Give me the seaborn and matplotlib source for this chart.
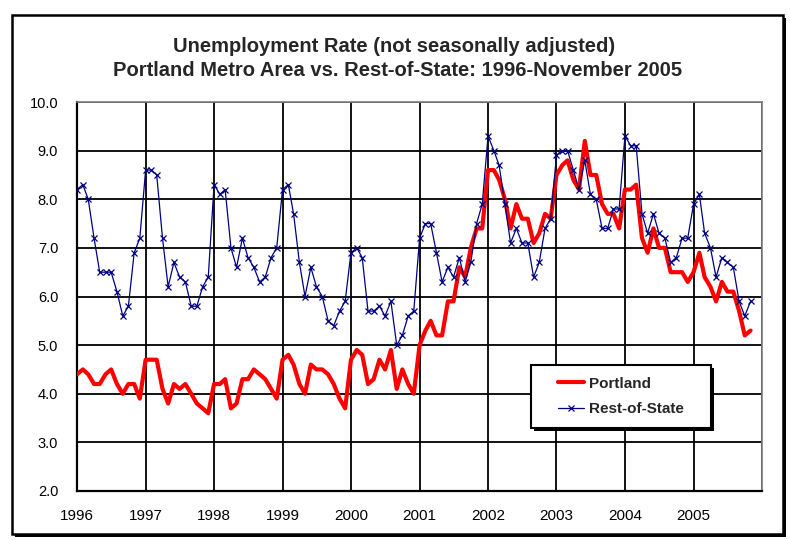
import pandas as pd
import matplotlib
matplotlib.use("Agg")
import matplotlib.pyplot as plt
from matplotlib.patches import Rectangle
import seaborn as sns

# ---------------------------------------------------------------------------
# Data (monthly, Jan 1996 - Nov 2005)
# ---------------------------------------------------------------------------
START = "1996-01-01"

PORTLAND = [
    4.4, 4.5, 4.4, 4.2, 4.2, 4.4, 4.5, 4.2, 4.0, 4.2, 4.2, 3.9,   # 1996
    4.7, 4.7, 4.7, 4.1, 3.8, 4.2, 4.1, 4.2, 4.0, 3.8, 3.7, 3.6,   # 1997
    4.2, 4.2, 4.3, 3.7, 3.8, 4.3, 4.3, 4.5, 4.4, 4.3, 4.1, 3.9,   # 1998
    4.7, 4.8, 4.6, 4.2, 4.0, 4.6, 4.5, 4.5, 4.4, 4.2, 3.9, 3.7,   # 1999
    4.7, 4.9, 4.8, 4.2, 4.3, 4.7, 4.5, 4.9, 4.1, 4.5, 4.2, 4.0,   # 2000
    5.0, 5.3, 5.5, 5.2, 5.2, 5.9, 5.9, 6.6, 6.4, 7.0, 7.4, 7.4,   # 2001
    8.6, 8.6, 8.4, 8.0, 7.4, 7.9, 7.6, 7.6, 7.1, 7.3, 7.7, 7.6,   # 2002
    8.5, 8.7, 8.8, 8.4, 8.2, 9.2, 8.5, 8.5, 7.9, 7.7, 7.7, 7.4,   # 2003
    8.2, 8.2, 8.3, 7.2, 6.9, 7.4, 7.0, 7.0, 6.5, 6.5, 6.5, 6.3,   # 2004
    6.5, 6.9, 6.4, 6.2, 5.9, 6.3, 6.1, 6.1, 5.7, 5.2, 5.3,        # 2005
]

REST_OF_STATE = [
    8.2, 8.3, 8.0, 7.2, 6.5, 6.5, 6.5, 6.1, 5.6, 5.8, 6.9, 7.2,   # 1996
    8.6, 8.6, 8.5, 7.2, 6.2, 6.7, 6.4, 6.3, 5.8, 5.8, 6.2, 6.4,   # 1997
    8.3, 8.1, 8.2, 7.0, 6.6, 7.2, 6.8, 6.6, 6.3, 6.4, 6.8, 7.0,   # 1998
    8.2, 8.3, 7.7, 6.7, 6.0, 6.6, 6.2, 6.0, 5.5, 5.4, 5.7, 5.9,   # 1999
    6.9, 7.0, 6.8, 5.7, 5.7, 5.8, 5.6, 5.9, 5.0, 5.2, 5.6, 5.7,   # 2000
    7.2, 7.5, 7.5, 6.9, 6.3, 6.6, 6.4, 6.8, 6.3, 6.7, 7.5, 7.9,   # 2001
    9.3, 9.0, 8.7, 7.9, 7.1, 7.4, 7.1, 7.1, 6.4, 6.7, 7.4, 7.6,   # 2002
    8.9, 9.0, 9.0, 8.6, 8.2, 8.8, 8.1, 8.0, 7.4, 7.4, 7.8, 7.8,   # 2003
    9.3, 9.1, 9.1, 7.7, 7.3, 7.7, 7.3, 7.2, 6.7, 6.8, 7.2, 7.2,   # 2004
    7.9, 8.1, 7.3, 7.0, 6.4, 6.8, 6.7, 6.6, 5.9, 5.6, 5.9,        # 2005
]

YEARS = list(range(1996, 2007))
YEAR_LABELS = [str(y) for y in YEARS[:-1]] + [""]
Y_TICKS = [2.0, 3.0, 4.0, 5.0, 6.0, 7.0, 8.0, 9.0, 10.0]

TITLE_1 = "Unemployment Rate (not seasonally adjusted)"
TITLE_2 = "Portland Metro Area vs. Rest-of-State: 1996-November 2005"

RED = "#ff0000"
NAVY = "#000080"


def main():
    sns.set_style("white")
    plt.rcParams["font.family"] = ["Liberation Sans", "DejaVu Sans"]

    months = pd.date_range(START, periods=len(PORTLAND), freq="MS")

    W, H = 790, 540
    fig = plt.figure(figsize=(W / 100, H / 100), dpi=100)
    fig.patch.set_facecolor("white")

    # outer chart frame with drop shadow
    fig.patches.append(Rectangle((15 / W, 3 / H), 771 / W, 519 / H, transform=fig.transFigure,
                                 facecolor="black", edgecolor="none", zorder=-2))
    fig.patches.append(Rectangle((12 / W, 6 / H), 771 / W, 519 / H, transform=fig.transFigure,
                                 facecolor="white", edgecolor="black", linewidth=1.8, zorder=-1))

    ax = fig.add_axes([77 / W, 1 - 491 / H, 685 / W, 389 / H])
    ax.set_facecolor("white")

    sns.lineplot(x=months, y=PORTLAND, ax=ax, color=RED, linewidth=3, label="Portland", zorder=3)
    sns.lineplot(x=months, y=REST_OF_STATE, ax=ax, color=NAVY, linewidth=0.9, marker="x",
                 markersize=5, markeredgewidth=0.9, markeredgecolor=NAVY,
                 label="Rest-of-State", zorder=4)

    ticks = pd.to_datetime([f"{y}-01-01" for y in YEARS])
    ax.set_xlim(ticks[0], ticks[-1])
    ax.set_xticks(ticks)
    ax.set_xticklabels(YEAR_LABELS)
    ax.set_ylim(Y_TICKS[0], Y_TICKS[-1])
    ax.set_yticks(Y_TICKS)
    ax.set_yticklabels([f"{v:.1f}" for v in Y_TICKS])
    ax.set_xlabel("")
    ax.set_ylabel("")

    ax.grid(True, color="black", linewidth=1.3)
    ax.set_axisbelow(True)
    for side, sp in ax.spines.items():
        sp.set_visible(True)
        sp.set_color("black" if side in ("left", "bottom") else "#808080")
        sp.set_linewidth(1.6 if side in ("left", "bottom") else 1.2)
    ax.tick_params(axis="y", direction="out", length=4.5, width=1.3, colors="black",
                   labelsize=10.5, pad=9)
    ax.tick_params(axis="x", direction="inout", length=6, width=1.3, colors="black",
                   labelsize=11, pad=10)

    # legend box (frame + shadow drawn as patches, legend content centred inside)
    bx, by, bw, bh = (531 - 77) / 685, (491 - 428) / 389, 180 / 685, 63 / 389
    ax.add_patch(Rectangle((bx + 3 / 685, by - 3 / 389), bw, bh, transform=ax.transAxes,
                           facecolor="black", edgecolor="none", zorder=6, clip_on=False))
    ax.add_patch(Rectangle((bx, by), bw, bh, transform=ax.transAxes,
                           facecolor="white", edgecolor="black", linewidth=1.5, zorder=7,
                           clip_on=False))
    leg = ax.legend(loc="center", bbox_to_anchor=(bx + bw / 2, by + bh / 2), frameon=False,
                    prop={"weight": "bold", "size": 11}, labelspacing=0.75,
                    handlelength=1.7, handletextpad=0.3, borderpad=0, borderaxespad=0)
    leg.set_zorder(8)

    fig.text(394 / W, 1 - 46 / H, TITLE_1, ha="center", va="center",
             fontsize=14.5, fontweight="bold")
    fig.text(398 / W, 1 - 71 / H, TITLE_2, ha="center", va="center",
             fontsize=14.5, fontweight="bold")

    fig.savefig("out.png", dpi=100)
    plt.close(fig)


if __name__ == "__main__":
    main()
